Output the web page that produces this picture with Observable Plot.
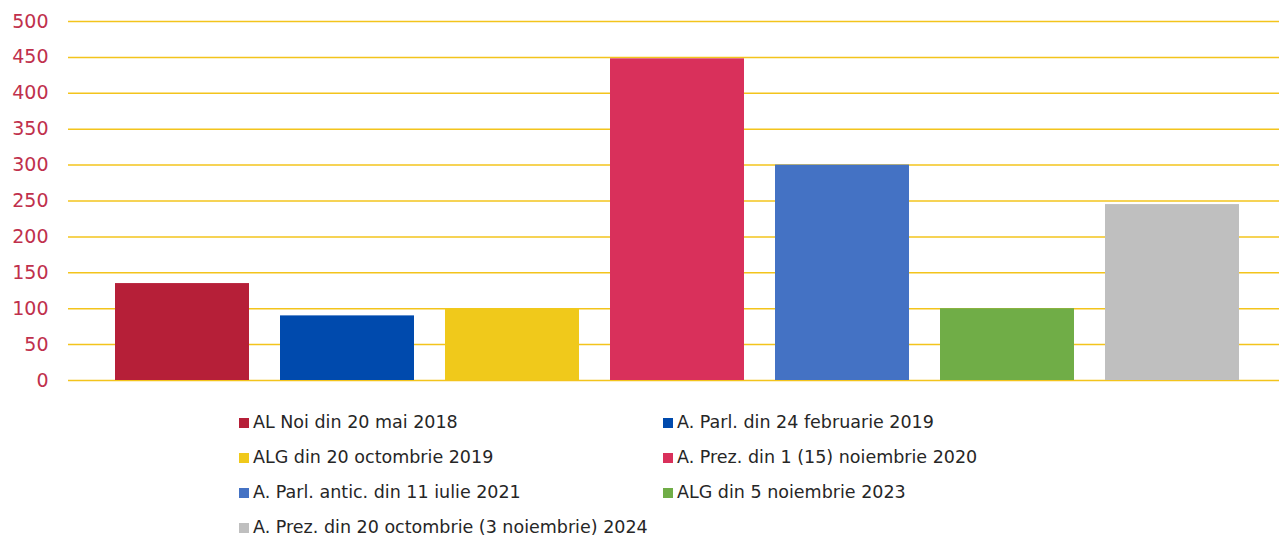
<!DOCTYPE html>
<html>
<head>
<meta charset="utf-8">
<script src="https://cdn.jsdelivr.net/npm/d3@7"></script>
<script src="https://cdn.jsdelivr.net/npm/@observablehq/plot@0.6"></script>
<style>
  html, body { margin: 0; padding: 0; background: #fff; }
  #chart svg { display: block; }
  .legend {
    display: grid;
    grid-template-columns: 424px 424px;
    margin-left: 239px;
    padding-top: 10px;
    font-family: "DejaVu Sans", sans-serif;
    font-size: 17.5px;
    color: #262626;
  }
  .legend .item { height: 35px; line-height: 35px; white-space: nowrap; display: flex; align-items: center; }
  .legend .sw { width: 10px; height: 10px; display: inline-block; margin-right: 4px; flex: none; }
</style>
</head>
<body>
<div id="chart"></div>
<script>
const categories = [
  "AL Noi din 20 mai 2018",
  "A. Parl. din 24 februarie 2019",
  "ALG din 20 octombrie 2019",
  "A. Prez. din 1 (15) noiembrie 2020",
  "A. Parl. antic. din 11 iulie 2021",
  "ALG din 5 noiembrie 2023",
  "A. Prez. din 20 octombrie (3 noiembrie) 2024"
];
const values = [135, 90, 100, 448, 300, 100, 245];
const colors = ["#b61f38", "#004aad", "#f0c91b", "#d9305b", "#4472c4", "#70ad47", "#bfbfbf"];
const yTicks = [0, 50, 100, 150, 200, 250, 300, 350, 400, 450, 500];

const data = categories.map((c, i) => ({category: c, value: values[i], color: colors[i]}));

const chart = Plot.plot({
  width: 1279,
  height: 395,
  marginLeft: 68,
  marginRight: 0,
  marginTop: 21,
  marginBottom: 15,
  style: {fontFamily: "DejaVu Sans, sans-serif", background: "#fff"},
  x: {type: "band", domain: categories, padding: 0.19, insetLeft: 15, insetRight: 8, axis: null},
  y: {domain: [0, 500], ticks: yTicks},
  color: {type: "ordinal", domain: categories, range: colors},
  marks: [
    Plot.ruleY(yTicks, {stroke: "#f3c41c", strokeWidth: 1.5}),
    Plot.barY(data, {x: "category", y: "value", fill: "category"}),
    Plot.axisY(yTicks, {tickSize: 0, tickPadding: 20, fontSize: 19, fill: "#c0304c", label: null})
  ]
});
document.getElementById("chart").appendChild(chart);

const legend = document.createElement("div");
legend.className = "legend";
categories.forEach((c, i) => {
  const item = document.createElement("div");
  item.className = "item";
  const sw = document.createElement("span");
  sw.className = "sw";
  sw.style.background = colors[i];
  const t = document.createElement("span");
  t.textContent = c;
  item.appendChild(sw);
  item.appendChild(t);
  legend.appendChild(item);
});
document.body.appendChild(legend);
</script>
</body>
</html>
